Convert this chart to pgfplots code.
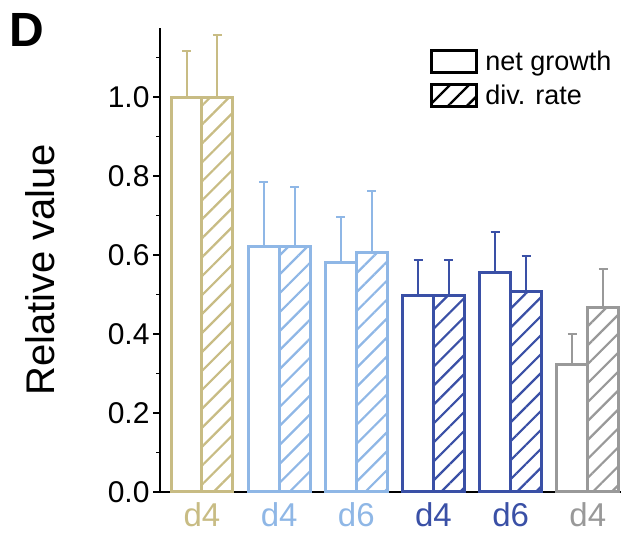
\documentclass[border=0pt]{standalone}
\usepackage{pgfplots}
\pgfplotsset{compat=1.18}
\usepackage{fontspec}
\setmainfont{Liberation Sans}
\usetikzlibrary{patterns.meta}
\definecolor{ctan}{HTML}{C8BC84}
\definecolor{clb}{HTML}{8FB7E6}
\definecolor{cdb}{HTML}{3A50A6}
\definecolor{cgr}{HTML}{999999}
\pgfplotsset{
  openbar/.style={ybar, bar width=0.4, bar shift=0, draw=#1, fill=white, line width=3pt, forget plot,
    error bars/.cd, y dir=plus, y explicit,
    error bar style={line width=2pt, #1},
    error mark options={rotate=90, mark size=4.5pt, line width=2pt, #1}, /pgfplots/.cd},
  hatchbar/.style={ybar, bar width=0.4, bar shift=0, draw=#1, line width=3pt, forget plot,
    pattern={Lines[angle=45,distance=13.4pt,line width=2.2pt]}, pattern color=#1,
    error bars/.cd, y dir=plus, y explicit,
    error bar style={line width=2pt, #1},
    error mark options={rotate=90, mark size=4.5pt, line width=2pt, #1}, /pgfplots/.cd},
}
\begin{document}
\begin{tikzpicture}
\useasboundingbox (0,0) rectangle (621pt,535pt);
\begin{axis}[
  at={(160pt,43pt)}, anchor=south west,
  scale only axis, width=461pt, height=464pt,
  xmin=-0.544, xmax=5.43, ymin=0, ymax=1.175,
  clip=false,
  axis x line*=bottom, axis y line*=left,
  axis line style={line width=1.5pt, black},
  ytick={0,0.2,0.4,0.6,0.8,1.0},
  minor ytick={0.1,0.3,0.5,0.7,0.9,1.1},
  yticklabel style={/pgf/number format/fixed, /pgf/number format/fixed zerofill, /pgf/number format/precision=1, font=\fontsize{30}{33}\selectfont},
  /pgf/number format/assume math mode=true,
  tick align=outside,
  major tick length=7pt, minor tick length=4pt,
  tick style={line width=1.5pt, black},
  xtick={0,1,2,3,4,5},
  xticklabels={\textcolor{ctan}{d4},\textcolor{clb}{d4},\textcolor{clb}{d6},\textcolor{cdb}{d4},\textcolor{cdb}{d6},\textcolor{cgr}{d4}},
  xticklabel style={font=\fontsize{33}{36}\selectfont},
  x tick style={draw=none},
  ylabel={Relative value},
  every axis y label/.style={at={(axis description cs:-0.26,0.478)}, anchor=center, rotate=90, font=\fontsize{40}{44}\selectfont},
  legend image code/.code={\draw[#1] (0pt,-11pt) rectangle (45pt,11pt); \path (50pt,0pt);},
  legend cell align=left,
  legend style={at={(axis description cs:0.586,0.955)}, anchor=north west, draw=none, fill=none, inner sep=0pt, font=\fontsize{27}{30}\selectfont, row sep=9pt},
]
\addlegendimage{black, line width=3pt, fill=white}
\addlegendentry{net growth}
\addlegendimage{black, line width=3pt, pattern={Lines[angle=45,distance=13.4pt,line width=2.4pt]}, pattern color=black}
\addlegendentry{div. rate}

\addplot[openbar=ctan] coordinates {(-0.2,1.0) +- (0,0.118)};
\addplot[hatchbar=ctan] coordinates {(0.2,1.0) +- (0,0.157)};
\addplot[openbar=clb] coordinates {(0.8,0.622) +- (0,0.163) (1.8,0.58) +- (0,0.117)};
\addplot[hatchbar=clb] coordinates {(1.2,0.622) +- (0,0.150) (2.2,0.607) +- (0,0.155)};
\addplot[openbar=cdb] coordinates {(2.8,0.497) +- (0,0.090) (3.8,0.557) +- (0,0.101)};
\addplot[hatchbar=cdb] coordinates {(3.2,0.497) +- (0,0.090) (4.2,0.507) +- (0,0.090)};
\addplot[openbar=cgr] coordinates {(4.8,0.322) +- (0,0.078)};
\addplot[hatchbar=cgr] coordinates {(5.2,0.466) +- (0,0.099)};

\node[anchor=north west, inner sep=0pt, font=\bfseries\fontsize{48}{50}\selectfont] at (axis description cs:-0.327,1.032) {D};
\end{axis}
\end{tikzpicture}
\end{document}
